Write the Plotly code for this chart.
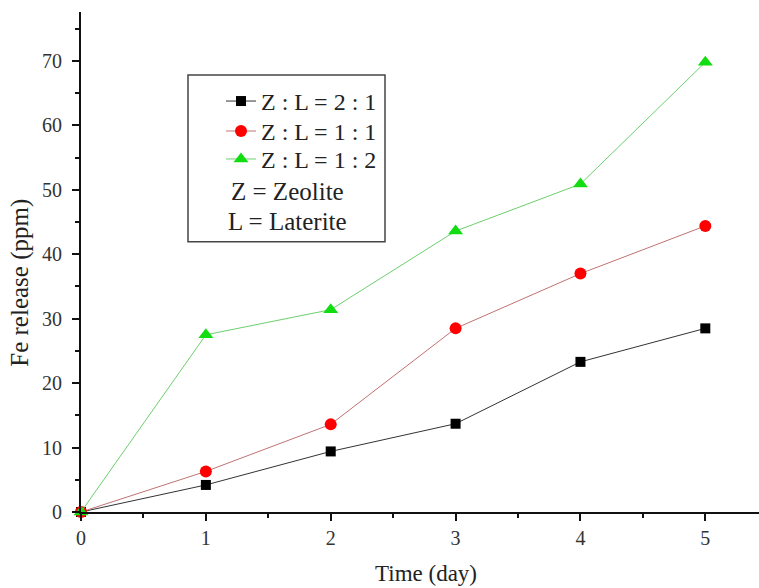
import plotly.graph_objects as go

days = [0, 1, 2, 3, 4, 5]
zl_2_1 = [0, 4.2, 9.4, 13.7, 23.3, 28.5]
zl_1_1 = [0, 6.3, 13.6, 28.5, 37.0, 44.4]
zl_1_2 = [0, 27.5, 31.4, 43.6, 50.9, 69.8]

names = ["Z : L = 2 : 1", "Z : L = 1 : 1", "Z : L = 1 : 2"]
FONT = "Liberation Serif, Times New Roman, serif"

W, H = 759, 588
L, R, T, B = 81, 0, 12, 75.5
pw, ph = W - L - R, H - T - B

def px(x):
    return (x - L) / pw

def py(y):
    return (H - B - y) / ph

fig = go.Figure()
fig.add_trace(go.Scatter(x=days, y=zl_2_1, name=names[0], mode="lines+markers",
                         line=dict(color="#333333", width=1),
                         marker=dict(symbol="square", size=10, color="#000000"),
                         cliponaxis=False, legend="legend"))
fig.add_trace(go.Scatter(x=days, y=zl_1_1, name=names[1], mode="lines+markers",
                         line=dict(color="#c07272", width=1),
                         marker=dict(symbol="circle", size=12, color="#ff0000"),
                         cliponaxis=False, legend="legend2"))
fig.add_trace(go.Scatter(x=days, y=zl_1_2, name=names[2], mode="lines+markers",
                         line=dict(color="#6ccf6c", width=1),
                         marker=dict(symbol="triangle-up", size=13, color="#11dd11"),
                         cliponaxis=False, legend="legend3"))

axis_common = dict(showline=True, linecolor="#111111", linewidth=2, showgrid=False,
                   zeroline=False, ticks="outside", ticklen=7, tickwidth=2,
                   tickcolor="#111111", tickfont=dict(family=FONT, size=20, color="#333333"))

fig.update_xaxes(range=[0, 5.43], dtick=1, tick0=0,
                 minor=dict(dtick=0.5, ticks="outside", ticklen=4, tickwidth=2, tickcolor="#111111"),
                 **axis_common)
fig.update_yaxes(range=[0, 77.6], dtick=10, tick0=0, ticklabelstandoff=6,
                 minor=dict(dtick=5, ticks="outside", ticklen=4, tickwidth=2, tickcolor="#111111"),
                 **axis_common)

fig.add_shape(type="rect", xref="paper", yref="paper",
              x0=px(188), x1=px(385), y0=py(242), y1=py(75),
              line=dict(color="#444444", width=1.5), fillcolor="rgba(0,0,0,0)")

fig.add_annotation(text="Z = Zeolite", xref="paper", yref="paper", x=px(287), y=py(192),
                   showarrow=False, xanchor="center", yanchor="middle",
                   font=dict(family=FONT, size=25, color="#222222"))
fig.add_annotation(text="L = Laterite", xref="paper", yref="paper", x=px(287), y=py(222),
                   showarrow=False, xanchor="center", yanchor="middle",
                   font=dict(family=FONT, size=25, color="#222222"))

fig.add_annotation(text="Fe release (ppm)", xref="paper", yref="paper", x=px(20), y=py(283),
                   showarrow=False, textangle=-90, xanchor="center", yanchor="middle",
                   font=dict(family=FONT, size=25, color="#222222"))
fig.add_annotation(text="Time (day)", xref="paper", yref="paper", x=px(426), y=py(574),
                   showarrow=False, xanchor="center", yanchor="middle",
                   font=dict(family=FONT, size=23, color="#222222"))

leg_common = dict(xanchor="left", yanchor="top", bgcolor="rgba(0,0,0,0)", borderwidth=0,
                  font=dict(family=FONT, size=24, color="#222222"))
fig.update_layout(
    width=W, height=H,
    margin=dict(l=L, r=R, t=T, b=B),
    paper_bgcolor="white", plot_bgcolor="white",
    showlegend=True,
    legend=dict(x=px(221), y=py(79), **leg_common),
    legend2=dict(x=px(221), y=py(109), **leg_common),
    legend3=dict(x=px(221), y=py(137), **leg_common),
)

fig.write_html("out.html", config={"displayModeBar": False},
               post_script="document.body.style.margin='0';document.body.style.padding='0';")
